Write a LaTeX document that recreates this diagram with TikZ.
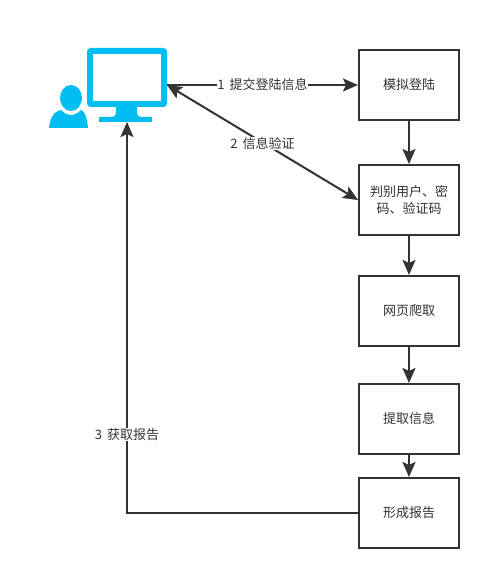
\documentclass[tikz,border=0pt]{standalone}
\usepackage{fontspec}
\setmainfont{Noto Sans CJK SC}
\usetikzlibrary{arrows.meta}
\definecolor{ink}{HTML}{333333}
\definecolor{iconblue}{HTML}{00BEF2}
\tikzset{
  x=1pt,y=-1pt,
  stepbox/.style={draw=ink,line width=2pt,fill=white,minimum width=100pt,minimum height=70pt,inner sep=2pt,text width=92pt,align=center,font=\fontsize{13}{17}\selectfont,text=ink},
  conn/.style={draw=ink,line width=2pt,-{Stealth[length=15pt,width=13pt,inset=3pt]}},
  bothconn/.style={conn,{Stealth[length=15pt,width=13pt,inset=3pt]}-{Stealth[length=15pt,width=13pt,inset=3pt]}},
  lab/.style={fill=white,inner sep=0.5pt,font=\fontsize{13}{15}\selectfont,text=ink},
  icon/.style={fill=iconblue,draw=none}
}
\begin{document}
\begin{tikzpicture}
\useasboundingbox[fill=white] (0,0) rectangle (491,580);
% icon
\fill[icon,rounded corners=3.5pt] (87,48) rectangle (167,107);
\fill[white] (93,54) rectangle (161,101);
\fill[icon] (116,106) -- (137,106) -- (137,113) .. controls (137,116) and (139,117) .. (142,117) -- (152,117) -- (152,122) -- (99,122) -- (99,117) -- (111,117) .. controls (114,117) and (116,116) .. (116,113) -- cycle;
\fill[icon] (71,98) ellipse [x radius=11,y radius=13];
\fill[icon] (49,128) .. controls (50,118) and (54,111) .. (61,110) .. controls (64,113) and (67,115) .. (71,115) .. controls (75,115) and (78,113) .. (81,110) .. controls (85,111) and (87,118) .. (88,128) -- cycle;
\coordinate (monR) at (167,85);
\coordinate (monB) at (127,122);
% boxes
\node[stepbox] (b1) at (409,85) {模拟登陆};
\node[stepbox] (b2) at (409,200) {判别用户、密\\码、验证码};
\node[stepbox] (b3) at (409,311) {网页爬取};
\node[stepbox] (b4) at (409,419) {提取信息};
\node[stepbox] (b5) at (409,513) {形成报告};
% connectors
\draw[conn] (monR) -- node[lab,pos=0.5] {1\hspace{2pt} 提交登陆信息} (b1.west);
\draw[bothconn] (monR) -- node[lab,pos=0.5,yshift=-1pt] {2\hspace{2pt} 信息验证} (b2.west);
\draw[conn] (b1) -- (b2);
\draw[conn] (b2) -- (b3);
\draw[conn] (b3) -- (b4);
\draw[conn] (b4) -- (b5);
\draw[conn] (b5.west) -- (monB |- b5.west) -- node[lab,pos=0.2] {3\hspace{2pt} 获取报告} (monB);
\end{tikzpicture}
\end{document}
